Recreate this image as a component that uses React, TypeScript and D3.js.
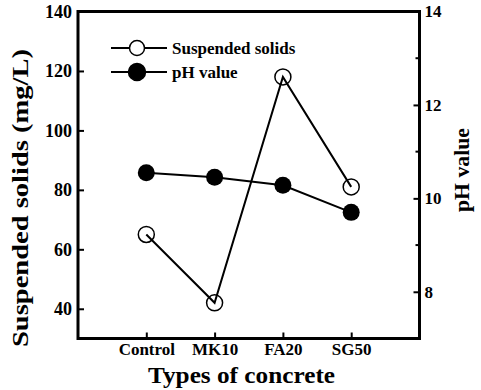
import React, { useEffect, useRef } from "react";
import * as d3 from "d3";

// data
const categories = ["Control", "MK10", "FA20", "SG50"];
const suspendedSolids = [65, 42, 118, 81];
const phValues = [10.55, 10.45, 10.28, 9.7];
const leftTicks = [40, 60, 80, 100, 120, 140];
const rightMajorTicks = [8, 10, 12, 14];
const rightMinorTicks = [9, 11, 13];
const seriesNames = ["Suspended solids", "pH value"];

const W = 481, H = 390;
const FONT = "'Liberation Serif', 'Times New Roman', serif";

export default function App() {
    const ref = useRef<SVGSVGElement>(null);

    useEffect(() => {
        const margin = { top: 11.5, right: 61.5, bottom: 51.5, left: 78 };
        const x0 = margin.left, x1 = W - margin.right,
            y0 = margin.top, y1 = H - margin.bottom;

        const x = d3.scalePoint<string>().domain(categories).range([x0, x1]).padding(1);
        const yL = d3.scaleLinear().domain([30, 140]).range([y1, y0]);
        const yR = d3.scaleLinear().domain([7, 14]).range([y1, y0]);

        const svg = d3.select(ref.current);
        svg.selectAll("*").remove();
        const g = svg.append("g").attr("font-family", FONT).attr("font-weight", "bold");

        // left axis, ticks inward
        const left = g.append("g").attr("transform", `translate(${x0},0)`)
            .call(d3.axisLeft(yL).tickValues(leftTicks).tickFormat(d3.format("d"))
                .tickSizeInner(-6).tickSizeOuter(0).tickPadding(6));
        // right axis
        const right = g.append("g").attr("transform", `translate(${x1},0)`)
            .call(d3.axisRight(yR).tickValues(rightMajorTicks).tickFormat(d3.format("d"))
                .tickSizeInner(-6).tickSizeOuter(0).tickPadding(5));
        right.append("g").selectAll("line").data(rightMinorTicks).enter().append("line")
            .attr("x1", 0).attr("x2", -4)
            .attr("y1", d => yR(d)).attr("y2", d => yR(d))
            .attr("stroke", "#000").attr("stroke-width", 2);
        // bottom axis
        const bottom = g.append("g").attr("transform", `translate(0,${y1})`)
            .call(d3.axisBottom(x).tickSizeInner(-6).tickSizeOuter(0).tickPadding(4));

        [left, right, bottom].forEach(ax => {
            ax.select(".domain").remove();
            ax.selectAll(".tick line").attr("stroke", "#000").attr("stroke-width", 2);
            ax.selectAll("text").attr("font-family", FONT).attr("font-weight", "bold")
                .attr("fill", "#000");
        });
        left.selectAll("text").attr("font-size", 18);
        right.selectAll("text").attr("font-size", 17);
        bottom.selectAll("text").attr("font-size", 17);

        // frame
        g.append("rect")
            .attr("x", x0).attr("y", y0).attr("width", x1 - x0).attr("height", y1 - y0)
            .attr("fill", "none").attr("stroke", "#000").attr("stroke-width", 3);

        // suspended solids line (open circles)
        const lineL = d3.line<number>().x((d, i) => x(categories[i])!).y(d => yL(d));
        g.append("path").datum(suspendedSolids).attr("d", lineL)
            .attr("fill", "none").attr("stroke", "#000").attr("stroke-width", 2);
        g.append("g").selectAll("circle").data(suspendedSolids).enter().append("circle")
            .attr("cx", (d, i) => x(categories[i])!).attr("cy", d => yL(d)).attr("r", 8)
            .attr("fill", "none").attr("stroke", "#000").attr("stroke-width", 1.5);

        // pH line (filled circles)
        const lineR = d3.line<number>().x((d, i) => x(categories[i])!).y(d => yR(d));
        g.append("path").datum(phValues).attr("d", lineR)
            .attr("fill", "none").attr("stroke", "#000").attr("stroke-width", 2);
        g.append("g").selectAll("circle").data(phValues).enter().append("circle")
            .attr("cx", (d, i) => x(categories[i])!).attr("cy", d => yR(d)).attr("r", 8.5)
            .attr("fill", "#000");

        // legend
        const legend = g.append("g");
        seriesNames.forEach((name, i) => {
            const ly = 48 + i * 24;
            legend.append("line").attr("x1", 111).attr("x2", 167).attr("y1", ly).attr("y2", ly)
                .attr("stroke", "#000").attr("stroke-width", 2);
            legend.append("circle").attr("cx", 137).attr("cy", ly).attr("r", i === 0 ? 7.5 : 8.5)
                .attr("fill", i === 0 ? "#fff" : "#000").attr("stroke", "#000").attr("stroke-width", 1.5);
            legend.append("text").attr("x", 172).attr("y", ly + 6).attr("font-size", 17)
                .text(name);
        });

        // axis titles
        g.append("text").attr("transform", "translate(28,198) rotate(-90)")
            .attr("text-anchor", "middle").attr("font-size", 23)
            .attr("textLength", 298).attr("lengthAdjust", "spacingAndGlyphs")
            .text("Suspended solids (mg/L)");
        g.append("text").attr("transform", "translate(469,170) rotate(-90)")
            .attr("text-anchor", "middle").attr("font-size", 22)
            .attr("textLength", 84).attr("lengthAdjust", "spacingAndGlyphs")
            .text("pH value");
        g.append("text").attr("x", 241.5).attr("y", 383)
            .attr("text-anchor", "middle").attr("font-size", 24)
            .attr("textLength", 187).attr("lengthAdjust", "spacingAndGlyphs")
            .text("Types of concrete");
    }, []);

    return (
        <svg ref={ref} width={W} height={H}
            style={{ position: "absolute", left: 0, top: 0, background: "#fff" }} />
    );
}
